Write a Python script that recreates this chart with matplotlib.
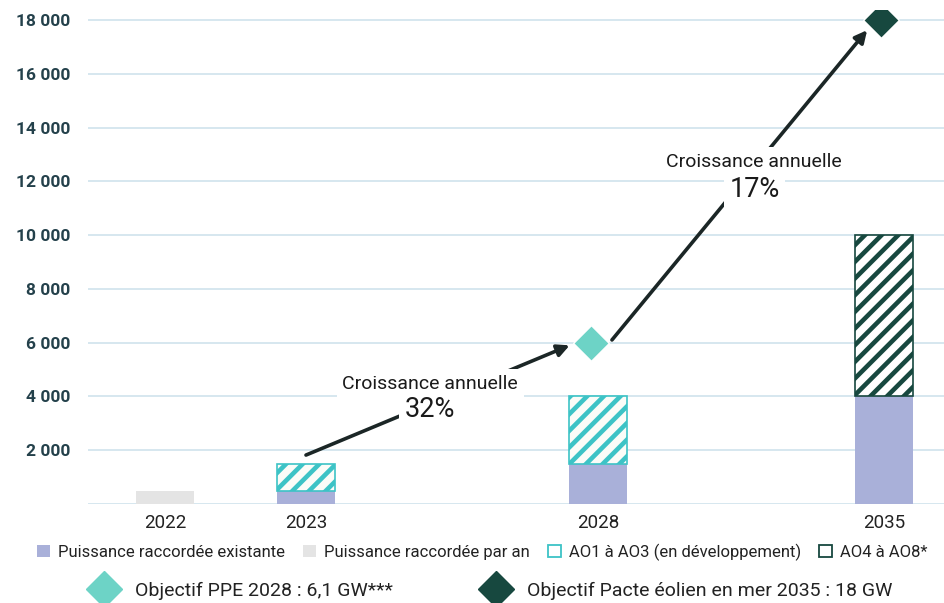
import matplotlib.pyplot as plt
from matplotlib.patches import Patch
from matplotlib.lines import Line2D

plt.rcParams['hatch.linewidth'] = 3.3

years = ['2022', '2023', '2028', '2035']
existante = [0, 480, 1500, 4000]
par_an = [500, 0, 0, 0]
ao1_ao3 = [0, 1000, 2500, 0]
ao4_ao8 = [0, 0, 0, 6000]

obj_ppe = ('2028', 6000)
obj_pacte = ('2035', 18000)

# (taux, annee debut, valeur debut, annee fin, valeur fin)
croissance = [('32%', '2023', 1820, '2028', 5900),
              ('17%', '2028', 6100, '2035', 17620)]

yticks = [0, 2000, 4000, 6000, 8000, 10000, 12000, 14000, 16000, 18000]

c_exist = '#A9B0D9'
c_gris = '#E4E4E4'
c_teal = '#3DC3C6'
c_dark = '#17483F'
c_ppe = '#6DD3C6'
c_grid = '#D3E5EE'
fam = ['Roboto', 'DejaVu Sans']

xpos = {'2022': 0, '2023': 1, '2028': 3.07, '2035': 5.1}
x = [xpos[y] for y in years]
w = 0.41

fig = plt.figure(figsize=(9.44, 6.03), dpi=100)
ax = fig.add_axes([88/944, 99/603, 856/944, 494/603])

for v in yticks:
    ax.axhline(v, color=c_grid, lw=1.3, zorder=0)


def barres(vals, bottom=None, **kw):
    xs = [xi for xi, v in zip(x, vals) if v]
    vs = [v for v in vals if v]
    bs = None
    if bottom is not None:
        bs = [b for b, v in zip(bottom, vals) if v]
    ax.bar(xs, vs, w, bottom=bs, zorder=2, **kw)


barres(existante, color=c_exist)
barres(par_an, color=c_gris)
barres(ao1_ao3, existante, facecolor='#FBFCF8', edgecolor=c_teal, hatch='//', lw=1.2)
barres(ao4_ao8, existante, facecolor='white', edgecolor=c_dark, hatch='//', lw=1.2)

ax.scatter([xpos[obj_ppe[0]] - 0.05], [obj_ppe[1]], marker='D', s=330, color=c_ppe,
           edgecolor='white', lw=1, zorder=5)
ax.scatter([xpos[obj_pacte[0]] - 0.02], [obj_pacte[1]], marker='D', s=330, color=c_dark,
           edgecolor='white', lw=1, zorder=5)

# fleches de croissance
starts = [0.0, 0.1]
ends = [-0.2, -0.12]
txt_pos = [(1.88, 4460, 3530), (4.18, 12720, 11710)]
for (pct, y0, v0, y1, v1), dx0, dx1, (tx, ty1, ty2) in zip(croissance, starts, ends, txt_pos):
    ax.annotate('', xy=(xpos[y1] + dx1, v1), xytext=(xpos[y0] + dx0, v0),
                arrowprops=dict(arrowstyle='-|>', color='#1b2626', lw=2.6,
                                mutation_scale=18, shrinkA=0, shrinkB=0),
                zorder=3)
    ax.text(tx, ty1, 'Croissance annuelle', ha='center', va='center',
            fontsize=14, color='#1a1a1a', zorder=4, family=fam,
            bbox=dict(facecolor='white', edgecolor='none', pad=4))
    ax.text(tx, ty2, pct, ha='center', va='center', fontsize=19.5,
            color='#1a1a1a', zorder=5, family=fam,
            bbox=dict(facecolor='white', edgecolor='none', pad=4))

ax.set_xlim(-0.546, 5.525)
ax.set_ylim(0, 18370)
ax.set_yticks(yticks)
ax.set_yticklabels([''] + [f'{v:,}'.replace(',', ' ') for v in yticks[1:]],
                   fontsize=12.5, color='#24414B', fontweight='bold', family=fam)
ax.set_xticks(x)
ax.set_xticklabels(years, fontsize=13.5, color='#222222', family=fam)
ax.tick_params(axis='both', length=0)
ax.tick_params(axis='y', pad=13)
ax.tick_params(axis='x', pad=7)
for s in ax.spines.values():
    s.set_visible(False)

h1 = [Patch(facecolor=c_exist), Patch(facecolor=c_gris),
      Patch(facecolor='white', edgecolor=c_teal, lw=1.3),
      Patch(facecolor='white', edgecolor=c_dark, lw=1.3)]
l1 = ['Puissance raccordée existante', 'Puissance raccordée par an',
      'AO1 à AO3 (en développement)', 'AO4 à AO8*']
fig.legend(h1, l1, loc='center', bbox_to_anchor=(0.511, 1 - 552/603), ncol=4,
           frameon=False, handlelength=0.75, handleheight=0.75,
           handletextpad=0.5, columnspacing=1.1,
           prop={'family': fam, 'size': 12}, labelcolor='#222222')

h2 = [Line2D([], [], marker='D', ls='', ms=18, color=c_ppe),
      Line2D([], [], marker='D', ls='', ms=18, color=c_dark)]
l2 = ['Objectif PPE 2028 : 6,1 GW***', 'Objectif Pacte éolien en mer 2035 : 18 GW']
fig.legend(h2, l2, loc='center', bbox_to_anchor=(0.517, 1 - 591/603), ncol=2,
           frameon=False, handletextpad=0.6, columnspacing=4.3,
           prop={'family': fam, 'size': 14}, labelcolor='#222222')

fig.savefig('out.png', dpi=100)
